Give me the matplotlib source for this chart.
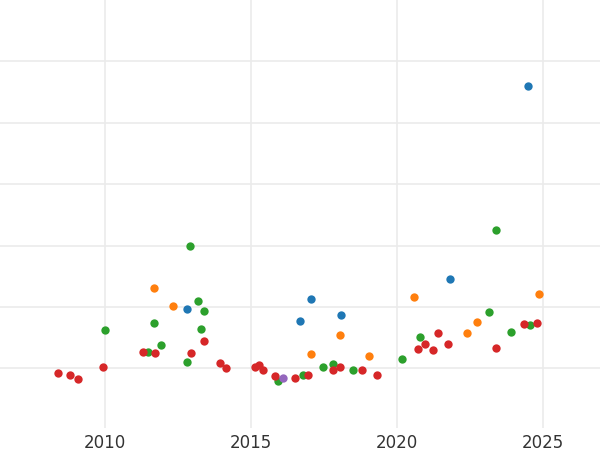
import matplotlib
matplotlib.use("Agg")
from matplotlib import pyplot as plt

# values (x = year, y = arbitrary units)
red_x = [2008.39, 2008.8, 2009.08, 2009.93, 2011.3, 2011.71, 2012.95, 2013.4, 2013.94, 2014.14,
         2015.14, 2015.27, 2015.4, 2015.82, 2016.5, 2016.95, 2017.8, 2018.05, 2018.8, 2019.32,
         2020.72, 2020.96, 2021.23, 2021.4, 2021.75, 2023.39, 2024.35, 2024.8]
red_y = [-0.08, -0.1, -0.18, 0.02, 0.26, 0.25, 0.25, 0.44, 0.08, 0.0,
         0.02, 0.05, -0.02, -0.13, -0.15, -0.1, -0.03, 0.02, -0.03, -0.1,
         0.31, 0.39, 0.3, 0.57, 0.39, 0.34, 0.72, 0.74]
green_x = [2010.0, 2011.47, 2011.68, 2011.92, 2012.81, 2012.91, 2013.18, 2013.29, 2013.39, 2015.92,
           2016.78, 2017.47, 2017.8, 2018.49, 2020.17, 2020.79, 2023.15, 2023.39, 2023.9, 2024.55]
green_y = [0.62, 0.26, 0.74, 0.38, 0.1, 2.0, 1.1, 0.64, 0.93, -0.21,
           -0.11, 0.02, 0.07, -0.03, 0.16, 0.51, 0.92, 2.25, 0.59, 0.7]
orange_x = [2011.68, 2012.33, 2017.05, 2018.05, 2019.04, 2020.58, 2022.4, 2022.74, 2024.86]
orange_y = [1.31, 1.02, 0.23, 0.54, 0.2, 1.16, 0.57, 0.75, 1.21]
blue_x = [2012.81, 2016.68, 2017.05, 2018.08, 2021.82, 2024.49]
blue_y = [0.97, 0.77, 1.13, 0.87, 1.46, 4.6]
purple_x = [2016.09]
purple_y = [-0.15]

fig = plt.figure(figsize=(6, 4.5), dpi=100)
ax = fig.add_axes([0, 428 / 450 * 0 + 0.049, 1, 0.951])

series = [(blue_x, blue_y, "#1f77b4"), (orange_x, orange_y, "#ff7f0e"),
          (green_x, green_y, "#2ca02c"), (red_x, red_y, "#d62728"),
          (purple_x, purple_y, "#9467bd")]
for xs, ys, c in series:
    ax.scatter(xs, ys, s=36, color=c, zorder=3, linewidths=0)

ax.set_xlim(2006.4, 2026.95)
ax.set_ylim(-0.97, 6.0)
ax.set_xticks([2010, 2015, 2020, 2025])
ax.set_yticks([0, 1, 2, 3, 4, 5])
ax.set_yticklabels([])
ax.tick_params(length=0, labelsize=12, colors="#333333")
ax.tick_params(axis="x", pad=4)
ax.grid(True, color="#ebebeb", linewidth=1.2)
ax.set_axisbelow(True)
for s in ax.spines.values():
    s.set_visible(False)

fig.savefig("out.png", dpi=100)
